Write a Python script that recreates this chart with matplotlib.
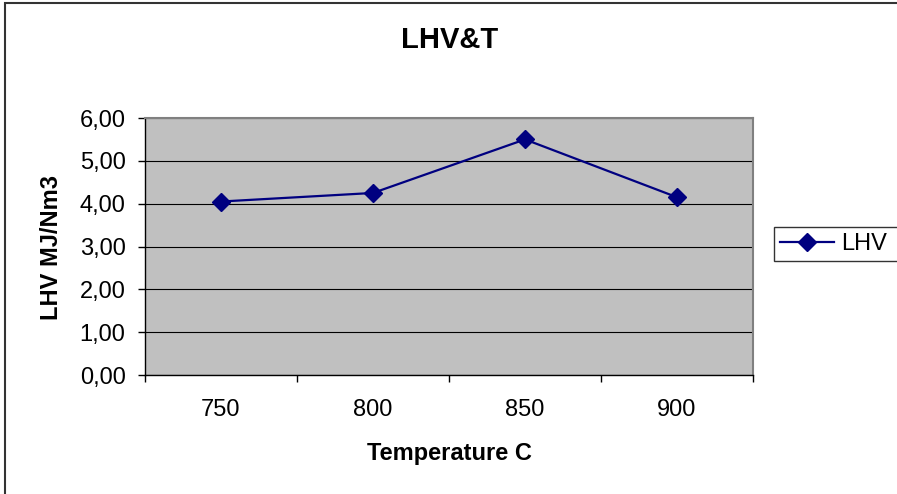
import matplotlib.pyplot as plt
from matplotlib.ticker import FixedLocator, FuncFormatter, NullFormatter
from matplotlib.patches import Rectangle

plt.rcParams['font.family'] = ['Liberation Sans', 'DejaVu Sans']

temperatures = ['750', '800', '850', '900']
lhv_values = [4.05, 4.25, 5.50, 4.15]
y_ticks = [0, 1, 2, 3, 4, 5, 6]

fig = plt.figure(figsize=(8.97, 4.94), dpi=100)
ax = fig.add_axes([145 / 897, 1 - 375 / 494, (753 - 145) / 897, (375 - 118) / 494])

# outer chart border (only left and top are visible in the reference)
fig.patches.append(Rectangle((5 / 897, -0.1), 1.2, 1 - 3 / 494 + 0.1, transform=fig.transFigure,
                             fill=False, edgecolor='#333333', linewidth=1.5))

ax.set_facecolor('#C0C0C0')
x = list(range(len(temperatures)))
ax.plot(x, lhv_values, color='#000080', linewidth=1.6, marker='D', markersize=9.5,
        markerfacecolor='#000080', markeredgecolor='#000080', label='LHV')

ax.set_xlim(-0.5, len(temperatures) - 0.5)
ax.set_ylim(0, 6)

# y axis
ax.set_yticks(y_ticks)
ax.yaxis.set_major_formatter(FuncFormatter(lambda v, p: f'{v:.2f}'.replace('.', ',')))
ax.tick_params(axis='y', direction='out', length=5, width=1, pad=9, labelsize=17)
ax.grid(axis='y', color='#000000', linewidth=0.8)
ax.set_axisbelow(True)

# x axis: ticks at category boundaries, labels centered
ax.xaxis.set_major_locator(FixedLocator([i - 0.5 for i in range(len(temperatures) + 1)]))
ax.xaxis.set_major_formatter(NullFormatter())
ax.xaxis.set_minor_locator(FixedLocator(x))
ax.set_xticklabels(temperatures, minor=True)
ax.tick_params(axis='x', which='major', direction='out', length=5, width=1)
ax.tick_params(axis='x', which='minor', length=0, pad=17, labelsize=17)

for side in ['top', 'right']:
    ax.spines[side].set_color('#808080')
    ax.spines[side].set_linewidth(1.5)
for side in ['left', 'bottom']:
    ax.spines[side].set_color('#000000')
    ax.spines[side].set_linewidth(1)

fig.text(450 / 897, 1 - 40 / 494, 'LHV&T', ha='center', va='center', fontsize=21, fontweight='bold')
fig.text(449 / 897, 1 - 453 / 494, 'Temperature C', ha='center', va='center', fontsize=17, fontweight='bold')
fig.text(52 / 897, 1 - 247 / 494, 'LHV MJ/Nm3', ha='center', va='center', rotation=90,
         fontsize=17, fontweight='bold')

# legend box runs off the right edge of the picture
leg = fig.legend(loc='upper left', bbox_to_anchor=(774 / 897, 1 - 264 / 494, 140 / 897, 37 / 494),
                 mode='expand', fontsize=17, frameon=True, fancybox=False, edgecolor='#000000',
                 handlelength=2.3, borderpad=0.25, handletextpad=0.3, borderaxespad=0)
leg.get_frame().set_linewidth(1)

fig.savefig('out.png', dpi=100)
